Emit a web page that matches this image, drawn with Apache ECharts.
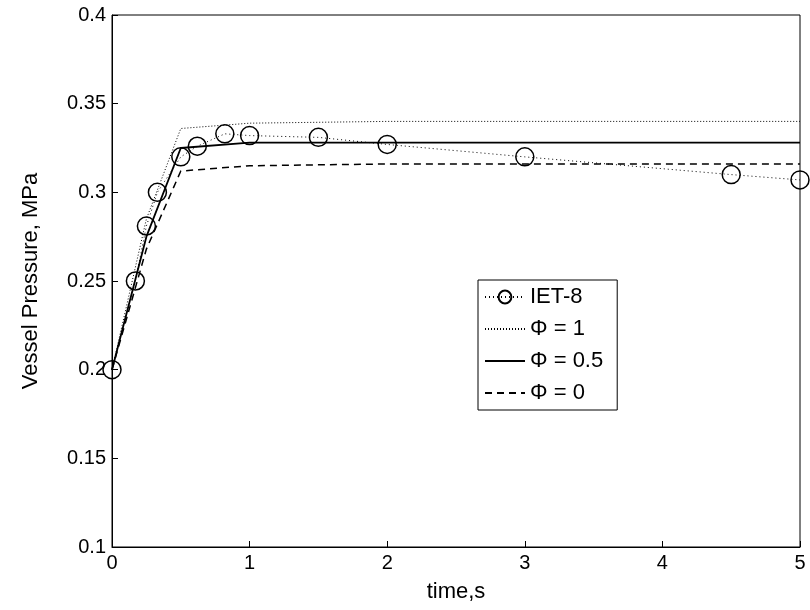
<!DOCTYPE html>
<html><head><meta charset="utf-8">
<script src="https://cdn.jsdelivr.net/npm/echarts@6/dist/echarts.min.js"></script>
</head><body style="margin:0;background:#fff">
<div id="chart" style="width:810px;height:610px"></div>
<script>
// IET-8 experiment
const ietT = [0, 0.17, 0.25, 0.33, 0.5, 0.62, 0.82, 1.0, 1.5, 2.0, 3.0, 4.5, 5.0];
const ietP = [0.2, 0.25, 0.281, 0.30, 0.32, 0.326, 0.333, 0.332, 0.331, 0.327, 0.320, 0.310, 0.307];
// model curves
const phi1T = [0, 0.25, 0.5, 1, 2, 5];
const phi1P = [0.2, 0.285, 0.336, 0.339, 0.340, 0.340];
const phi05T = [0, 0.25, 0.5, 1, 2, 5];
const phi05P = [0.2, 0.275, 0.325, 0.328, 0.328, 0.328];
const phi0T = [0, 0.25, 0.5, 1, 2, 5];
const phi0P = [0.2, 0.268, 0.312, 0.315, 0.316, 0.316];

const zip = (a, b) => a.map((v, i) => [v, b[i]]);
const font = 'Arial, "Liberation Sans", sans-serif';
const noDot = { opacity: 0 };

let chart = echarts.init(document.getElementById('chart'));
chart.setOption({
    animation: false,
    grid: { left: 112, right: 10, top: 15, bottom: 63 },
    legend: {
        orient: 'vertical', left: 478, top: 280,
        backgroundColor: '#fff', borderColor: '#000', borderWidth: 1, borderRadius: 0,
        padding: [6, 14, 6, 6], itemGap: 10, itemWidth: 40, itemHeight: 16,
        textStyle: { fontSize: 22, color: '#000', fontFamily: font },
        data: ['IET-8',
            { name: 'Φ = 1', itemStyle: noDot },
            { name: 'Φ = 0.5', itemStyle: noDot },
            { name: 'Φ = 0', itemStyle: noDot }]
    },
    xAxis: {
        type: 'value', min: 0, max: 5, interval: 1,
        name: 'time,s', nameLocation: 'middle', nameGap: 34,
        nameTextStyle: { fontSize: 22, color: '#000', fontFamily: font },
        axisLine: { onZero: false, lineStyle: { color: '#000' } },
        axisTick: { inside: true, length: 6, lineStyle: { color: '#000' } },
        axisLabel: { fontSize: 20, color: '#000', fontFamily: font, margin: 6 },
        splitLine: { show: false }
    },
    yAxis: {
        type: 'value', min: 0.1, max: 0.4, interval: 0.05,
        name: 'Vessel Pressure, MPa', nameLocation: 'middle', nameGap: 70,
        nameTextStyle: { fontSize: 22, color: '#000', fontFamily: font },
        axisLine: { show: true, lineStyle: { color: '#000' } },
        axisTick: { inside: true, length: 6, lineStyle: { color: '#000' } },
        axisLabel: { fontSize: 20, color: '#000', fontFamily: font, margin: 6,
            formatter: v => +v.toFixed(2) + '' },
        splitLine: { show: false }
    },
    series: [
        {
            name: 'IET-8', type: 'line', data: zip(ietT, ietP),
            symbol: 'circle', symbolSize: 18, showAllSymbol: true,
            itemStyle: { color: 'rgba(255,255,255,0)', borderColor: '#000', borderWidth: 1.5 },
            lineStyle: { color: '#000', width: 1, type: [1, 3] }, z: 5
        },
        {
            name: 'Φ = 1', type: 'line', data: zip(phi1T, phi1P), symbol: 'none',
            itemStyle: { color: '#000' },
            lineStyle: { color: '#000', width: 1, type: [1, 2] }
        },
        {
            name: 'Φ = 0.5', type: 'line', data: zip(phi05T, phi05P), symbol: 'none',
            itemStyle: { color: '#000' },
            lineStyle: { color: '#000', width: 1.8, type: 'solid' }
        },
        {
            name: 'Φ = 0', type: 'line', data: zip(phi0T, phi0P), symbol: 'none',
            itemStyle: { color: '#000' },
            lineStyle: { color: '#000', width: 1.5, type: [7, 5] }
        }
    ],
    graphic: [{ type: 'rect', shape: { x: 112, y: 15, width: 688, height: 532 },
        style: { fill: 'none', stroke: '#000', lineWidth: 1 }, silent: true }]
});
</script>
</body></html>
